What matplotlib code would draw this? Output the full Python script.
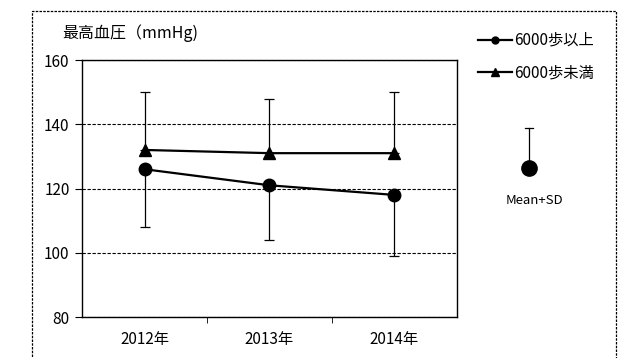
import matplotlib
matplotlib.use("Agg")
import matplotlib.pyplot as plt
from matplotlib.lines import Line2D
from matplotlib.patches import Rectangle

plt.rcParams['font.family'] = ['Noto Sans CJK JP', 'DejaVu Sans']

years = ["2012年", "2013年", "2014年"]
over_mean = [126, 121, 118]
over_sd = [18, 17, 19]
under_mean = [132, 131, 131]
under_sd = [18, 17, 19]
label_over = "6000歩以上"
label_under = "6000歩未満"
yticks = [80, 100, 120, 140, 160]

fig = plt.figure(figsize=(6.27, 3.58), dpi=100)
ax = fig.add_axes([0.1308, 0.1145, 0.598, 0.7179])

x = list(range(len(years)))

# error bars: over group downward, under group upward
ax.errorbar(x, over_mean, yerr=[over_sd, [0]*3], fmt='none', ecolor='black',
            elinewidth=0.9, capsize=3.5, capthick=0.9, zorder=2)
ax.errorbar(x, under_mean, yerr=[[0]*3, under_sd], fmt='none', ecolor='black',
            elinewidth=0.9, capsize=3.5, capthick=0.9, zorder=2)
ax.plot(x, over_mean, color='black', lw=1.6, marker='o', markersize=9, zorder=3)
ax.plot(x, under_mean, color='black', lw=1.6, marker='^', markersize=9, zorder=3)

ax.set_xlim(-0.5, 2.5)
ax.set_ylim(80, 160)
ax.set_yticks(yticks)
ax.set_xticks(x)
ax.set_xticklabels(years)
ax.set_xticks([0.5, 1.5], minor=True)
ax.tick_params(axis='x', which='major', length=0, pad=10, labelsize=11)
ax.tick_params(axis='x', which='minor', length=4, direction='out')
ax.tick_params(axis='y', length=5, direction='out', labelsize=11, pad=4)
ax.grid(axis='y', linestyle=(0, (3, 1.5)), color='black', lw=0.8)
for s in ax.spines.values():
    s.set_linewidth(1.0)
ax.set_axisbelow(True)

fig.text(62/627, 1-33/358, "最高血圧（mmHg)", fontsize=11.5, va='center', ha='left')

h1 = Line2D([], [], color='black', lw=1.6, marker='o', markersize=5)
h2 = Line2D([], [], color='black', lw=1.6, marker='^', markersize=6)
fig.legend([h1, h2], [label_over, label_under], loc='upper left',
           bbox_to_anchor=(478/627, 1-32/358), frameon=False, fontsize=11,
           handlelength=2.2, handletextpad=0.15, labelspacing=1.0, borderaxespad=0,
           borderpad=0)

# Mean+SD key
kx = 529/627
fig.add_artist(Line2D([kx, kx], [1-128/358, 1-166/358], color='black', lw=0.9))
fig.add_artist(Line2D([kx-4/627, kx+4/627], [1-128/358, 1-128/358], color='black', lw=0.9))
fig.add_artist(Line2D([kx], [1-168/358], marker='o', markersize=11, color='black'))
fig.text(kx+5/627, 1-200/358, "Mean+SD", fontsize=9.5, ha='center', va='center')

fig.add_artist(Rectangle((32/627, -0.02), (616-32)/627, 1-11/358+0.02, fill=False,
                         ec='black', lw=0.9, ls=(0, (2, 1)), transform=fig.transFigure))

fig.savefig("out.png", dpi=100)
